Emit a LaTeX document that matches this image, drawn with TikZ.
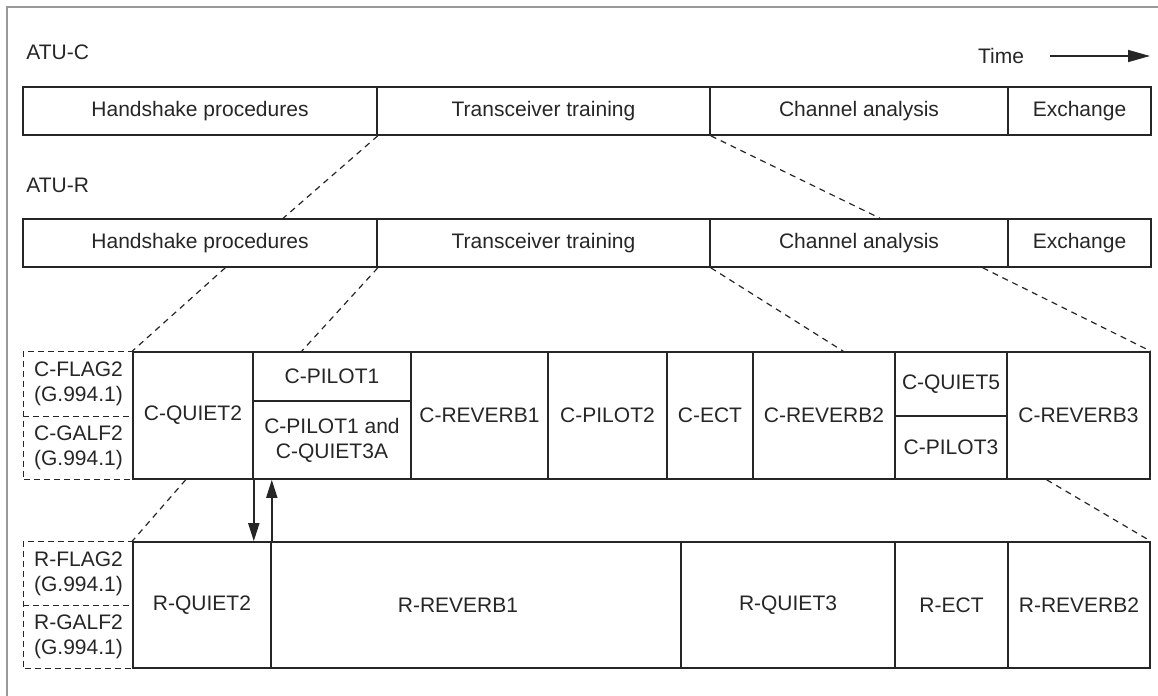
\documentclass[tikz,border=0pt]{standalone}
\usepackage{fontspec}
\setmainfont{Liberation Sans}
\usetikzlibrary{arrows.meta,calc}
\newcommand{\cellbox}[7][cell]{\node[#1, minimum width={(#5-#3)*0.5pt}, minimum height={(#6-#4)*0.5pt}] (#2) at ({(#3+#5)/2},{(#4+#6)/2}) {#7};}
\begin{document}
\begin{tikzpicture}[x=0.5pt,y=-0.5pt,
 cell/.style={draw=black!85, line width=0.8pt, inner sep=0pt, align=center, font=\fontsize{10.5}{12.5}\selectfont, text=black!85},
 dcell/.style={cell, draw=none},
 dline/.style={draw=black!85, line width=0.6pt, dash pattern=on 3pt off 2pt},
 link/.style={draw=black!85, line width=0.6pt, dash pattern=on 3pt off 2.5pt},
 sig/.style={draw=black!85, line width=0.8pt, -{Triangle[length=9pt,width=5.5pt]}},
 lbl/.style={inner sep=0pt, font=\fontsize{10.5}{12.5}\selectfont, text=black!85},
]
\useasboundingbox (0,0) rectangle (1158,696);
\draw[black!40, line width=0.6pt] (7,696) -- (7,7) -- (1158,7);

\node[lbl, anchor=west] (atuc) at (26,52) {ATU-C};
\node[lbl, anchor=west] (atur) at (26,185) {ATU-R};
\node[lbl] (time) at (1001,56) {Time};
\coordinate (tend) at (1150,56);
\draw[draw=black!85, line width=0.8pt, -{Triangle[length=11pt,width=6pt]}] ([xshift=13pt]time.east) -- (tend);

% ATU-C phases
\cellbox{hsC}{23}{87}{377}{135}{Handshake procedures}
\cellbox{ttC}{377}{87}{710}{135}{Transceiver training}
\cellbox{caC}{710}{87}{1008}{135}{Channel analysis}
\cellbox{exC}{1008}{87}{1151}{135}{Exchange}
% ATU-R phases
\cellbox{hsR}{23}{219}{377}{267}{Handshake procedures}
\cellbox{ttR}{377}{219}{710}{267}{Transceiver training}
\cellbox{caR}{710}{219}{1008}{267}{Channel analysis}
\cellbox{exR}{1008}{219}{1151}{267}{Exchange}

% C states
\cellbox[dcell]{cflag}{24}{352}{133}{416}{C-FLAG2\\(G.994.1)}
\cellbox[dcell]{cgalf}{24}{416}{133}{479}{C-GALF2\\(G.994.1)}
\draw[dline] (cflag.north east) -- (cflag.north west) -- (cgalf.south west) -- (cgalf.south east);
\draw[dline] (cflag.south west) -- (cflag.south east);
\cellbox{cq2}{133}{352}{253}{479}{C-QUIET2}
\cellbox{cp1}{253}{352}{411}{401}{C-PILOT1}
\cellbox{cp1q}{253}{401}{411}{479}{C-PILOT1 and\\C-QUIET3A}
\cellbox{crev1}{411}{352}{548}{479}{C-REVERB1}
\cellbox{cp2}{548}{352}{667}{479}{C-PILOT2}
\cellbox{cect}{667}{352}{753}{479}{C-ECT}
\cellbox{crev2}{753}{352}{895}{479}{C-REVERB2}
\cellbox{cq5}{895}{352}{1007}{416}{C-QUIET5}
\cellbox{cp3}{895}{416}{1007}{479}{C-PILOT3}
\cellbox{crev3}{1007}{352}{1150}{479}{C-REVERB3}

% R states
\cellbox[dcell]{rflag}{24}{542}{133}{605}{R-FLAG2\\(G.994.1)}
\cellbox[dcell]{rgalf}{24}{605}{133}{668}{R-GALF2\\(G.994.1)}
\draw[dline] (rflag.north east) -- (rflag.north west) -- (rgalf.south west) -- (rgalf.south east);
\draw[dline] (rflag.south west) -- (rflag.south east);
\cellbox{rq2}{133}{542}{271}{668}{R-QUIET2}
\cellbox[cell,label={[lbl,xshift=-9pt]center:R-REVERB1}]{rrev1}{271}{542}{681}{668}{}
\cellbox{rq3}{681}{542}{895}{668}{R-QUIET3}
\cellbox{rect}{895}{542}{1008}{668}{R-ECT}
\cellbox{rrev2}{1008}{542}{1150}{668}{R-REVERB2}

% dashed expansion links
\draw[link] (hsC.south east) -- ($(hsR.north west)!0.734!(hsR.north east)$);
\draw[link] (ttC.south east) -- ($(caR.north west)!0.570!(caR.north east)$);
\draw[link] ($(hsR.south west)!0.571!(hsR.south east)$) -- (cq2.north west);
\draw[link] (hsR.south east) -- ($(cp1.north west)!0.31!(cp1.north east)$);
\draw[link] (ttR.south east) -- ($(crev2.north west)!0.634!(crev2.north east)$);
\draw[link] ($(caR.south west)!0.913!(caR.south east)$) -- (crev3.north east);
\draw[link] ($(cq2.south west)!0.44!(cq2.south east)$) -- (rq2.north west);
\draw[link] ($(crev3.south west)!0.28!(crev3.south east)$) -- (rrev2.north east);

% signalling arrows
\draw[sig] (cq2.south east) -- (cq2.south east |- rq2.north);
\draw[sig] (rq2.north east) -- (rq2.north east |- cp1q.south);
\end{tikzpicture}
\end{document}
